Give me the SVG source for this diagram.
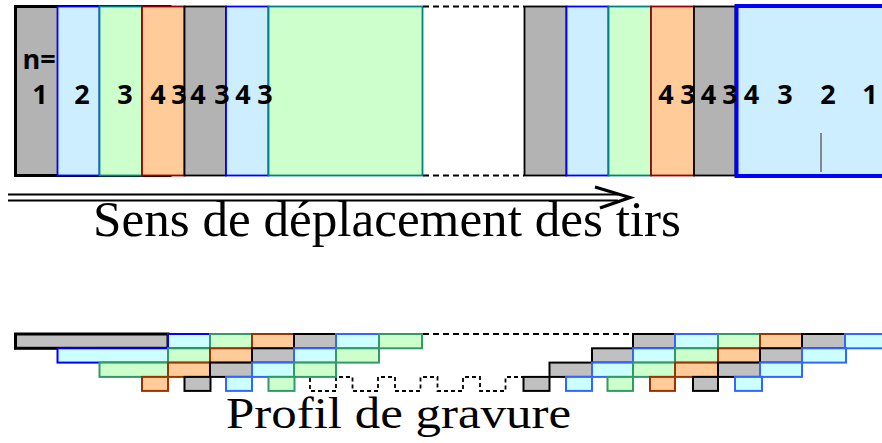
<svg xmlns="http://www.w3.org/2000/svg" width="882" height="443" viewBox="0 0 882 443">
<style>
.g{fill:#b3b3b3;stroke:#000;stroke-width:1.8}
.b{fill:#cceeff;stroke:#0000ff;stroke-width:1.8}
.gr{fill:#ccffcc;stroke:#008080;stroke-width:1.8}
.o{fill:#ffcc99;stroke:#990000;stroke-width:1.8}
.pg{fill:#c0c0c0;stroke:#000;stroke-width:2}
.pb{fill:#ccffff;stroke:#3366ff;stroke-width:2}
.pbd{fill:#ccffff;stroke:#0000ff;stroke-width:2}
.pgr{fill:#ccffcc;stroke:#339966;stroke-width:2}
.po{fill:#ffcc99;stroke:#993300;stroke-width:2}
.dash{fill:none;stroke:#000;stroke-width:2;stroke-dasharray:6 4}
.sdash{fill:none;stroke:#000;stroke-width:1.8;stroke-dasharray:4 3}
.num{font-family:"Open Sans","Noto Sans",sans-serif;font-weight:700;font-size:27px;text-anchor:middle;fill:#000}
.cap{font-family:"Liberation Serif","Times New Roman",serif;fill:#000}
</style>
<rect width="882" height="443" fill="#fff"/>

<g id="strip-left">
  <rect id="shot1" class="g" x="15.5" y="6.5" width="154.5" height="169" style="stroke-width:3"/>
  <rect id="shot2" class="b" x="57.5" y="6.5" width="42" height="169"/>
  <rect id="shot3" class="gr" x="99.5" y="6.5" width="42.5" height="169"/>
  <rect id="shot4" class="o" x="142" y="6.5" width="42.5" height="169"/>
  <rect id="shot5" class="g" x="184.5" y="6.5" width="41.5" height="169"/>
  <rect id="shot6" class="b" x="226" y="6.5" width="42.5" height="169"/>
  <rect id="shot7" class="gr" x="268.5" y="6.5" width="154" height="169"/>
</g>
<g id="strip-right">
  <rect id="shotR1" class="g" x="524.5" y="6.5" width="42" height="169"/>
  <rect id="shotR2" class="b" x="566.5" y="6.5" width="42" height="169"/>
  <rect id="shotR3" class="gr" x="608.5" y="6.5" width="42.5" height="169"/>
  <rect id="shotR4" class="o" x="651" y="6.5" width="43" height="169"/>
  <rect id="shotR5" class="g" x="694" y="6.5" width="41.5" height="169"/>
  <rect id="shotR6" class="b" x="736.5" y="6" width="156" height="170" style="stroke-width:4"/>
  <line x1="821" y1="133" x2="821" y2="172" stroke="#666" stroke-width="1.5"/>
</g>

<g id="connectors">
  <line class="dash" x1="423" y1="6.5" x2="524" y2="6.5"/>
  <line class="dash" x1="423" y1="175.5" x2="524" y2="175.5"/>
  <line x1="8" y1="194.5" x2="618" y2="194.5" stroke="#000" stroke-width="2.2"/>
  <line x1="8" y1="200.5" x2="618" y2="200.5" stroke="#000" stroke-width="2.2"/>
  <polyline points="595,187 630,197.5 600,208" fill="none" stroke="#000" stroke-width="3.2" stroke-linejoin="miter"/>
  <line class="dash" x1="423" y1="334" x2="633" y2="334"/>
  <path class="sdash" d="M310,378 V391 H336 V377 H352.5 V391 H378 V377 H395 V391 H420.5 V377 H437.5 V391 H463 V377 H480 V391 H505.5 V377 H523"/>
</g>

<g id="labels">
  <text class="num" x="39" y="69" style="font-size:27px">n=</text>
  <text class="num" x="40" y="104">1</text>
  <text class="num" x="82" y="104">2</text>
  <text class="num" x="125" y="104">3</text>
  <text class="num" x="158" y="104">4</text>
  <text class="num" x="179" y="104">3</text>
  <text class="num" x="198" y="104">4</text>
  <text class="num" x="222" y="104">3</text>
  <text class="num" x="243" y="104">4</text>
  <text class="num" x="265" y="104">3</text>
  <text class="num" x="666" y="104">4</text>
  <text class="num" x="688" y="104">3</text>
  <text class="num" x="708.5" y="104">4</text>
  <text class="num" x="730" y="104">3</text>
  <text class="num" x="751.5" y="104">4</text>
  <text class="num" x="785" y="104">3</text>
  <text class="num" x="828" y="104">2</text>
  <text class="num" x="870" y="104">1</text>
  <text class="cap" x="93" y="236" font-size="50" textLength="588" lengthAdjust="spacingAndGlyphs">Sens de déplacement des tirs</text>
  <text class="cap" x="226" y="428" font-size="44" textLength="345" lengthAdjust="spacingAndGlyphs">Profil de gravure</text>
</g>

<g id="profile-left">
  <rect class="pg" x="15.5" y="334" width="152.5" height="14.3" style="stroke-width:3"/>
  <rect class="pbd" x="168" y="334" width="42" height="14.3"/>
  <rect class="pgr" x="210" y="334" width="42" height="14.3"/>
  <rect class="po" x="252" y="334" width="42" height="14.3"/>
  <rect class="pg" x="294" y="334" width="42" height="14.3"/>
  <rect class="pb" x="336" y="334" width="43" height="14.3"/>
  <rect class="pgr" x="379" y="334" width="43" height="14.3"/>

  <rect class="pbd" x="57.5" y="348.3" width="110.5" height="14.3"/>
  <rect class="pgr" x="168" y="348.3" width="42" height="14.3"/>
  <rect class="po" x="210" y="348.3" width="42" height="14.3"/>
  <rect class="pg" x="252" y="348.3" width="42" height="14.3"/>
  <rect class="pb" x="294" y="348.3" width="42" height="14.3"/>
  <rect class="pgr" x="336" y="348.3" width="43" height="14.3"/>

  <rect class="pgr" x="99.5" y="362.6" width="68.5" height="14.3"/>
  <rect class="po" x="168" y="362.6" width="42" height="14.3"/>
  <rect class="pg" x="210" y="362.6" width="42" height="14.3"/>
  <rect class="pb" x="252" y="362.6" width="42" height="14.3"/>
  <rect class="pgr" x="294" y="362.6" width="42" height="14.3"/>

  <rect class="po" x="142" y="376.9" width="26" height="14"/>
  <rect class="pg" x="184.5" y="376.9" width="26" height="14"/>
  <rect class="pb" x="226" y="376.9" width="26" height="14"/>
  <rect class="pgr" x="268.5" y="376.9" width="26" height="14"/>
</g>

<g id="profile-right">
  <rect class="pg" x="633" y="334" width="42" height="14.3"/>
  <rect class="pb" x="675" y="334" width="43" height="14.3"/>
  <rect class="pgr" x="718" y="334" width="42" height="14.3"/>
  <rect class="po" x="760" y="334" width="42" height="14.3"/>
  <rect class="pg" x="802" y="334" width="43" height="14.3"/>
  <rect class="pb" x="845" y="334" width="45" height="14.3"/>

  <rect class="pg" x="592" y="348.3" width="41" height="14.3"/>
  <rect class="pb" x="633" y="348.3" width="42" height="14.3"/>
  <rect class="pgr" x="675" y="348.3" width="43" height="14.3"/>
  <rect class="po" x="718" y="348.3" width="42" height="14.3"/>
  <rect class="pg" x="760" y="348.3" width="42" height="14.3"/>
  <rect class="pb" x="802" y="348.3" width="44" height="14.3"/>

  <rect class="pg" x="549.5" y="362.6" width="42.5" height="14.3"/>
  <rect class="pb" x="592" y="362.6" width="41" height="14.3"/>
  <rect class="pgr" x="633" y="362.6" width="42" height="14.3"/>
  <rect class="po" x="675" y="362.6" width="43" height="14.3"/>
  <rect class="pg" x="718" y="362.6" width="42" height="14.3"/>
  <rect class="pb" x="760" y="362.6" width="42" height="14.3"/>

  <rect class="pg" x="523.5" y="376.9" width="26" height="14"/>
  <rect class="pb" x="566" y="376.9" width="26" height="14"/>
  <rect class="pgr" x="607.5" y="376.9" width="25.5" height="14"/>
  <rect class="po" x="650" y="376.9" width="25" height="14"/>
  <rect class="pg" x="693" y="376.9" width="25" height="14"/>
  <rect class="pb" x="735" y="376.9" width="27" height="14"/>
</g>
</svg>
